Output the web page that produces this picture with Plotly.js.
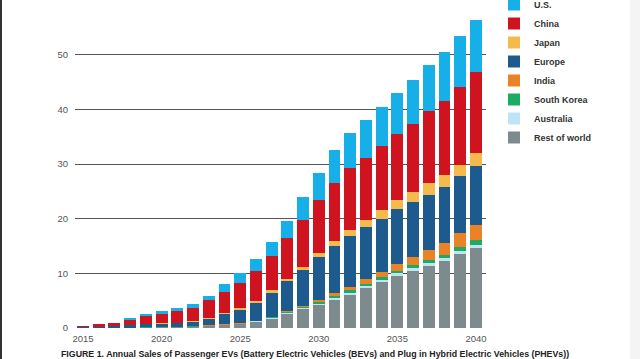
<!DOCTYPE html>
<html>
<head>
<meta charset="utf-8">
<script src="https://cdn.plot.ly/plotly-3.0.1.min.js"></script>
<style>
html,body{margin:0;padding:0;background:#fff;overflow:hidden;}
#chart{width:640px;height:359px;}
</style>
</head>
<body>
<div id="chart"></div>
<script>
const years = [2015,2016,2017,2018,2019,2020,2021,2022,2023,2024,2025,2026,2027,2028,2029,2030,2031,2032,2033,2034,2035,2036,2037,2038,2039,2040];
const restOfWorld = [0.02,0.02,0.03,0.05,0.07,0.10,0.15,0.25,0.35,0.55,0.65,1.15,1.65,2.55,3.4,4.2,5.1,6.1,7.25,8.5,9.6,10.5,11.4,12.3,13.5,14.6];
const australia   = [0,0,0.01,0.01,0.01,0.01,0.01,0.02,0.02,0.03,0.04,0.05,0.15,0.25,0.25,0.25,0.35,0.3,0.35,0.35,0.4,0.45,0.45,0.5,0.5,0.5];
const southKorea  = [0,0.01,0.01,0.02,0.02,0.02,0.03,0.04,0.05,0.06,0.08,0.08,0.15,0.2,0.2,0.35,0.4,0.55,0.4,0.4,0.45,0.5,0.55,0.6,0.8,1.0];
const india       = [0,0,0,0.01,0.01,0.02,0.03,0.04,0.05,0.06,0.08,0.07,0.15,0.2,0.15,0.4,0.6,0.6,0.95,0.95,1.25,1.55,1.9,2.2,2.5,2.7];
const europe      = [0.18,0.22,0.35,0.40,0.55,0.62,0.68,0.80,1.23,1.85,2.45,3.15,4.35,5.4,6.7,7.8,8.55,9.35,9.45,9.7,10.0,10.1,10.1,10.2,10.5,10.8];
const japan       = [0.02,0.02,0.03,0.06,0.07,0.08,0.10,0.15,0.10,0.15,0.30,0.40,0.45,0.45,0.5,0.8,0.9,1.0,1.3,1.7,1.7,1.8,2.2,2.2,2.1,2.5];
const china       = [0.08,0.40,0.50,0.91,1.52,1.75,2.20,2.35,3.25,3.80,4.70,5.60,6.30,7.35,8.5,9.6,10.65,11.3,11.4,11.7,12.1,12.4,13.1,13.6,14.2,14.8];
const us          = [0.15,0.05,0.05,0.38,0.31,0.50,0.45,0.75,0.85,1.50,1.70,2.10,2.60,3.2,4.3,5.0,5.95,6.5,6.9,7.2,7.5,8.0,8.4,8.8,9.3,9.5];

const seriesNames  = ["Rest of world","Australia","South Korea","India","Europe","Japan","China","U.S."];
const seriesValues = [restOfWorld, australia, southKorea, india, europe, japan, china, us];
const seriesColors = ["#7d8a8e","#bfe4f6","#1daa62","#ea8326","#1d5a8e","#f4ba4c","#d0141f","#16afe8"];

const xTickVals = [2015,2020,2025,2030,2035,2040];
const yTickVals = [0,10,20,30,40,50,60];
const caption = "FIGURE 1. Annual Sales of Passenger EVs (Battery Electric Vehicles (BEVs) and Plug in Hybrid Electric Vehicles (PHEVs))";

const traces = seriesNames.map((n,i)=>({
  type:'bar', name:n, x:years, y:seriesValues[i],
  marker:{color:seriesColors[i], line:{width:0}},
  hoverinfo:'skip'
}));

const W=640,H=359,ml=75,mr=154,mt=0,mb=31;
const pw=W-ml-mr, ph=H-mt-mb;

const layout = {
  width:W, height:H,
  margin:{l:ml,r:mr,t:mt,b:mb,autoexpand:false},
  paper_bgcolor:'#fff', plot_bgcolor:'#fff',
  barmode:'stack', bargap:0.24,
  font:{family:'"Liberation Sans", Arial, sans-serif', color:'#555', size:9},
  xaxis:{range:[2014.49,2040.64], tickvals:xTickVals, ticktext:xTickVals.map(String),
    showgrid:false, zeroline:false, showline:false, ticks:'', ticklabelstandoff:3,
    tickfont:{size:9.5,color:'#555'}, fixedrange:true},
  yaxis:{range:[0,60], tickvals:yTickVals, showgrid:true, gridcolor:'#555', gridwidth:1,
    zeroline:false, showline:false, ticks:'', ticklabelstandoff:6,
    tickfont:{size:9.5,color:'#555'}, fixedrange:true},
  showlegend:true,
  legend:{x:(494-ml)/pw, xanchor:'left', y:1+10/ph, yanchor:'top',
    font:{size:9,color:'#333', family:'"Liberation Sans", Arial, sans-serif', weight:'bold'},
    bgcolor:'rgba(0,0,0,0)', borderwidth:0, itemclick:false},
  annotations:[{
    text:caption, showarrow:false, xref:'paper', yref:'paper',
    x:(59-ml)/pw, xanchor:'left', y:(ph-354)/ph, yanchor:'middle',
    font:{size:8.8,color:'#222', family:'"Liberation Sans", Arial, sans-serif', weight:'bold'}
  }],
  shapes:[
    {type:'rect', xref:'paper', yref:'paper', x0:-ml/pw, x1:(2-ml)/pw, y0:-mb/ph, y1:1, fillcolor:'#333', line:{width:0}, layer:'above'},
    {type:'rect', xref:'paper', yref:'paper', x0:(630-ml)/pw, x1:(640-ml)/pw, y0:-mb/ph, y1:1, fillcolor:'#f4f4f4', line:{width:0}, layer:'below'}
  ]
};

Plotly.newPlot('chart', traces, layout, {displayModeBar:false, staticPlot:true});
</script>
</body>
</html>
